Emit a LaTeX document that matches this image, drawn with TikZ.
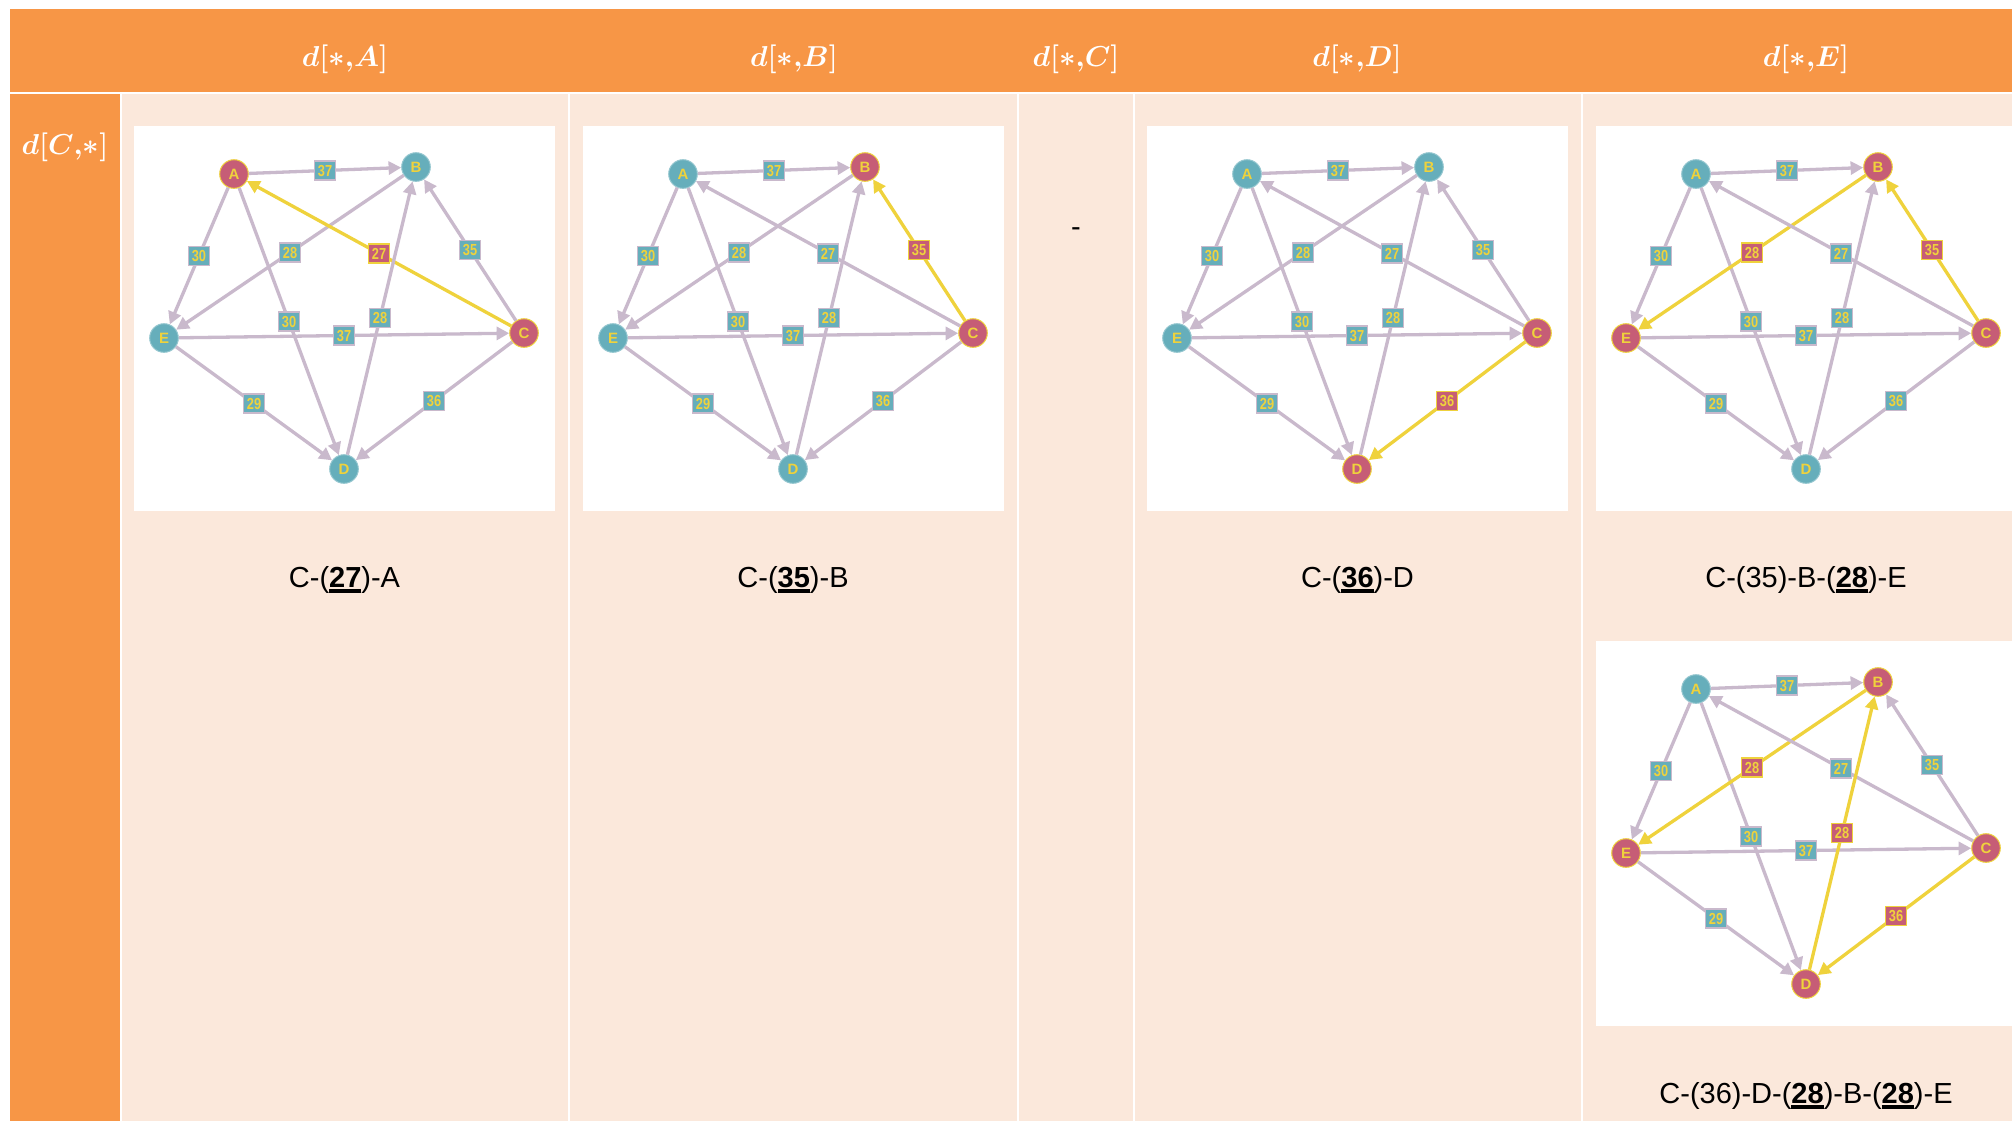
\documentclass[tikz,border=0pt]{standalone}
\usepackage[no-math]{fontspec}
\usepackage{tikz}
\usetikzlibrary{arrows.meta}
\setmainfont{Liberation Sans}
\newfontfamily\narrowsf[FakeStretch=0.8]{Liberation Sans}

\definecolor{hdrorange}{HTML}{F79646}
\definecolor{cellpeach}{HTML}{FBE8DB}
\definecolor{edgemauve}{HTML}{C9B9CC}
\definecolor{pathyellow}{HTML}{EFD23C}
\definecolor{vtxteal}{HTML}{66AEBB}
\definecolor{vtxred}{HTML}{C65D76}

\newcommand{\best}[1]{%
  \setbox0=\hbox{\bfseries #1}%
  \rlap{\rule[-3pt]{\wd0}{2.2pt}}\box0}

\newcommand{\routegraph}[3]{%
  \begin{scope}[shift={#1}, #3]
    \fill[white] (0,0) rectangle (421,385);
    \node[vtx, vA/.try] (#2A) at (100, 48) {A};
    \node[vtx, vB/.try] (#2B) at (282, 41) {B};
    \node[vtx, vC/.try] (#2C) at (390,207) {C};
    \node[vtx, vD/.try] (#2D) at (210,343) {D};
    \node[vtx, vE/.try] (#2E) at ( 30,212) {E};
    \draw[edge, eAB/.try] (#2A) -- (#2B) node[wt, wAB/.try, midway] {37};
    \draw[edge, eAE/.try] (#2A) -- (#2E) node[wt, wAE/.try, midway] {30};
    \draw[edge, eAD/.try] (#2A) -- (#2D) node[wt, wAD/.try, midway] {30};
    \draw[edge, eED/.try] (#2E) -- (#2D) node[wt, wED/.try, midway] {29};
    \draw[edge, eEC/.try] (#2E) -- (#2C) node[wt, wEC/.try, midway] {37};
    \draw[edge, eBE/.try] (#2B) -- (#2E) node[wt, wBE/.try, midway] {28};
    \draw[edge, eCA/.try] (#2C) -- (#2A) node[wt, wCA/.try, midway] {27};
    \draw[edge, eCB/.try] (#2C) -- (#2B) node[wt, wCB/.try, midway] {35};
    \draw[edge, eCD/.try] (#2C) -- (#2D) node[wt, wCD/.try, midway] {36};
    \draw[edge, eDB/.try] (#2D) -- (#2B) node[wt, wDB/.try, midway] {28};
  \end{scope}}

\begin{document}
\begin{tikzpicture}[x=0.5pt, y=-0.5pt,
        vtx/.style    ={circle, minimum size=14.3pt, inner sep=0pt, fill=vtxteal,
                        draw=vtxteal!70!white, line width=0.5pt, text=pathyellow,
                        font=\bfseries\fontsize{7.5}{8}\selectfont},
        hotvtx/.style ={fill=vtxred, draw=pathyellow},
        edge/.style   ={-{Triangle[length=6.3pt, width=6.5pt]}, draw=edgemauve,
                        line width=1.65pt},
        hotedge/.style={draw=pathyellow},
        wt/.style     ={rectangle, minimum width=10.5pt, minimum height=9.5pt,
                        inner sep=0pt, fill=vtxteal, draw=edgemauve, line width=0.6pt,
                        text=pathyellow, font=\narrowsf\bfseries\fontsize{8}{9}\selectfont},
        hotwt/.style  ={fill=vtxred, draw=pathyellow},
        on path/.style={v#1/.style=hotvtx},
        chosen/.style ={e#1/.style=hotedge, w#1/.style=hotwt},
        hdr/.style    ={text=white, font=\fontsize{14}{16}\selectfont\boldmath},
        capt/.style   ={anchor=base, font=\fontsize{14.5}{17}\selectfont},]

    \useasboundingbox (0,0) rectangle (2012,1121);
    \clip (0,0) rectangle (2012,1121);
    \fill[white] (0,0) rectangle (2012,1121);

    \fill[hdrorange] (10,9) rectangle (2012,91.7);
    \fill[hdrorange] (10,94) rectangle (120,1121);
    \foreach \xl/\xr in {122/568, 570/1017.3, 1019.3/1133.3, 1135.3/1581, 1583/2012}
        \fill[cellpeach] (\xl,94) rectangle (\xr,1121);

    \node[hdr] (hdrA) at ( 345,59) {$d[*{,}A]$};
    \node[hdr] (hdrB) at ( 794,59) {$d[*{,}B]$};
    \node[hdr] (hdrC) at (1076,59) {$d[*{,}C]$};
    \node[hdr] (hdrD) at (1357,59) {$d[*{,}D]$};
    \node[hdr] (hdrE) at (1806,59) {$d[*{,}E]$};
    \node[hdr] (rowC) at (  65,147) {$d[C{,}*]$};

    \routegraph{(134,126)}{ga}{on path/.list={A,C}, chosen=CA}
    \routegraph{(583,126)}{gb}{on path/.list={B,C}, chosen=CB}
    \routegraph{(1147,126)}{gd}{on path/.list={C,D}, chosen=CD}
    \routegraph{(1596,126)}{ge}{on path/.list={B,C,E}, chosen/.list={CB,BE}}
    \routegraph{(1596,641)}{gf}{on path/.list={B,C,D,E}, chosen/.list={CD,DB,BE}}

    \node[capt] (capA) at ( 344.5,587) {C-(\best{27})-A};
    \node[capt] (capB) at ( 793,587) {C-(\best{35})-B};
    \node[capt] (capC) at (1076,236) {-};
    \node[capt] (capD) at (1357.5,587) {C-(\best{36})-D};
    \node[capt] (capE) at (1806,587) {C-(35)-B-(\best{28})-E};
    \node[capt] (capF) at (1806,1103) {C-(36)-D-(\best{28})-B-(\best{28})-E};
\end{tikzpicture}
\end{document}
